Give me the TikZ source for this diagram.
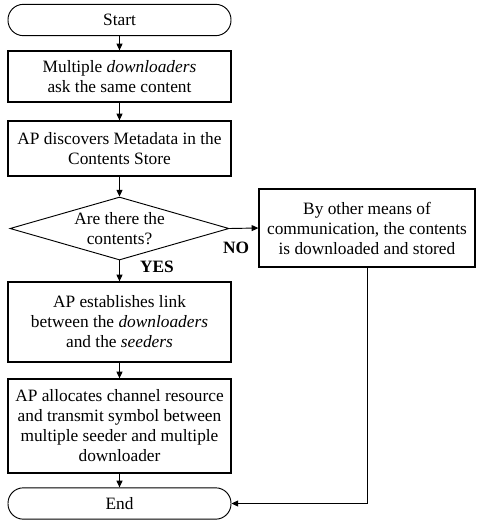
\documentclass[tikz,border=0pt]{standalone}
\usepackage{fontspec}
\setmainfont{Liberation Serif}
\usetikzlibrary{shapes.geometric,arrows.meta}
\begin{document}
\begin{tikzpicture}[x=0.75pt,y=-0.75pt,
  txt/.style={font=\rmfamily\fontsize{13}{15}\selectfont, align=center, inner sep=0pt},
  stepbox/.style={txt, draw, line width=1pt, minimum width=167.25pt},
  term/.style={txt, draw, line width=0.7pt, rounded corners=11.5pt, minimum width=167.25pt, minimum height=23.5pt},
  decision/.style={txt, draw, line width=0.7pt, shape=diamond, aspect=3.48, minimum width=164.25pt, minimum height=47.25pt},
  conn/.style={line width=0.7pt, -{Triangle[length=5pt,width=4.5pt]}},
  lbl/.style={font=\rmfamily\fontsize{13}{15}\selectfont\bfseries, inner sep=0pt}
]
\useasboundingbox (0,0) rectangle (477,521);

\node[term] (start) at (119.5,20) {Start};
\node[stepbox, minimum height=38.25pt] (b1) at (119.5,76.5) {Multiple \textit{downloaders}\\ask the same content};
\node[stepbox, minimum height=41.25pt] (b2) at (119.5,148.5) {AP discovers Metadata in the\\Contents Store};
\node[decision] (dec) at (119.5,228.5) {Are there the\\contents?};
\node[stepbox, minimum width=162pt, minimum height=58.5pt] (other) at (367,228) {By other means of\\communication, the contents\\is downloaded and stored};
\node[stepbox, minimum height=60pt] (b3) at (119.5,322) {AP establishes link\\between the \textit{downloaders}\\and the \textit{seeders}};
\node[stepbox, minimum height=70.5pt] (b4) at (119.5,426) {AP allocates channel resource\\and transmit symbol between\\multiple seeder and multiple\\downloader};
\node[term] (end) at (119.5,503.5) {End};

\node[lbl] (yes) at (157,267) {YES};
\node[lbl] (no) at (236,248) {NO};

\draw[conn] (start) -- (b1);
\draw[conn] (b1) -- (b2);
\draw[conn] (b2) -- (dec);
\draw[conn] (dec) -- (b3);
\draw[conn] (b3) -- (b4);
\draw[conn] (b4) -- (end);
\draw[conn] (dec.east) -- (other.west);
\draw[conn] (other.south) |- (end.east);
\end{tikzpicture}
\end{document}
